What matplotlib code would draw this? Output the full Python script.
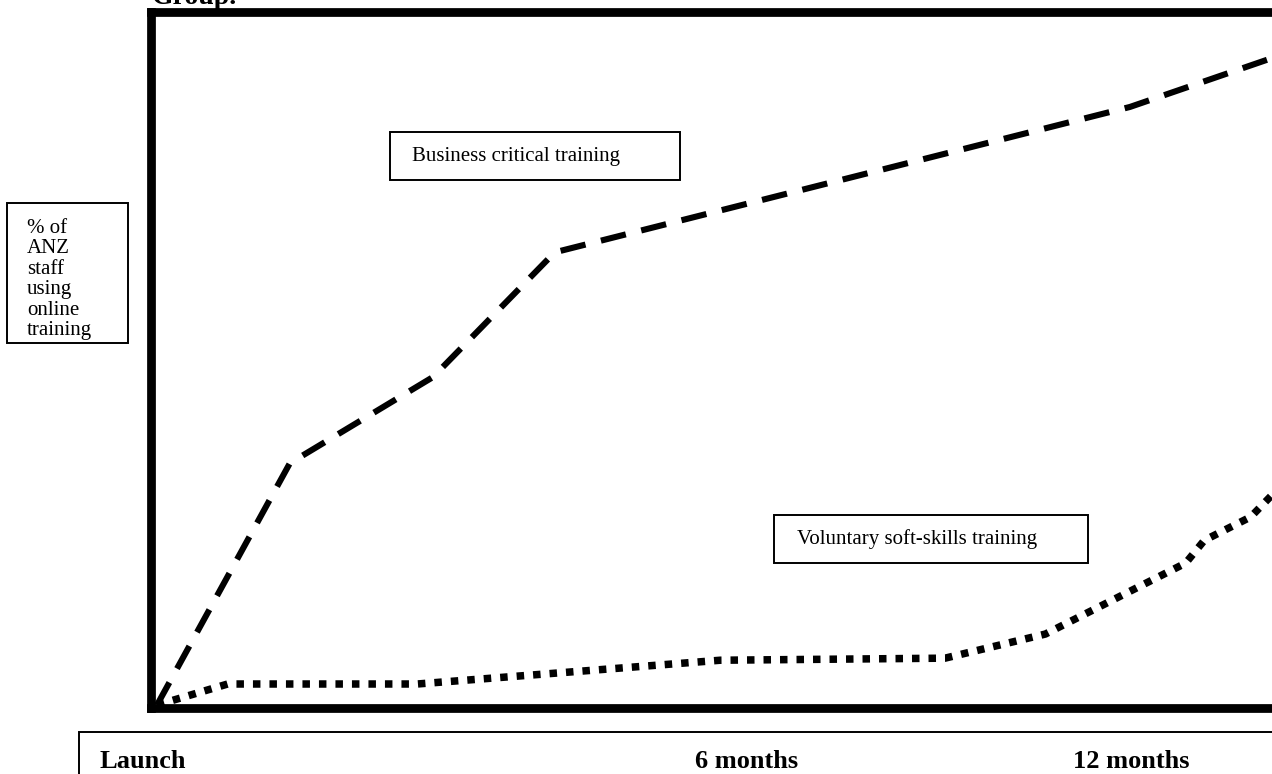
import matplotlib
matplotlib.use("Agg")
import matplotlib.pyplot as plt
from matplotlib.patches import Rectangle

# months since launch vs % of staff
months_business = [0, 1.43, 2.97, 4.28, 10.47, 12.0]
pct_business = [0, 35.1, 47.6, 65.7, 86.8, 93.9]

months_soft = [0, 0.76, 2.80, 6.06, 8.48, 9.56, 11.07, 11.27, 11.77, 12.0]
pct_soft = [0, 3.05, 3.05, 6.5, 6.8, 10.3, 20.6, 23.9, 27.3, 30.5]

time_labels = ["Launch", "6 months", "12 months"]
y_label_lines = ["% of", "ANZ", "staff", "using", "online", "training"]

W, H = 1272, 774
SERIF = ["Liberation Serif", "DejaVu Serif"]


def fx(px):
    return px / W


def fy(py):
    return 1 - py / H


fig = plt.figure(figsize=(W / 100, H / 100), dpi=100)

# main frame, the right side runs off the picture
ax = fig.add_axes([fx(150.5), fy(707.5), fx(1300) - fx(150.5), fy(12) - fy(707.5)])
ax.set_xlim(-0.07, 12.30)
ax.set_ylim(-0.36, 100.58)
ax.set_xticks([])
ax.set_yticks([])
for s in ax.spines.values():
    s.set_linewidth(6.3)
    s.set_color("black")

l1, = ax.plot(months_business, pct_business, color="black", lw=4.4,
              solid_capstyle="butt", dash_capstyle="butt")
l1.set_dashes((4.2, 2.6))
l2, = ax.plot(months_soft, pct_soft, color="black", lw=5.4,
              dash_capstyle="butt")
l2.set_dashes((1.0, 1.2))

# boxes drawn in figure pixels
def box(x0, y0, x1, y1, lw=1.4):
    fig.patches.append(Rectangle((fx(x0), fy(y1)), fx(x1) - fx(x0), fy(y0) - fy(y1),
                                 transform=fig.transFigure, fill=False,
                                 edgecolor="black", lw=lw))

box(390, 132, 680, 180)
fig.text(fx(412), fy(156), "Business critical training", family=SERIF,
         fontsize=15, va="center", ha="left")

box(774, 515, 1088, 563)
fig.text(fx(797), fy(539), "Voluntary soft-skills training", family=SERIF,
         fontsize=15, va="center", ha="left")

box(7, 203, 128, 343)
fig.text(fx(27), fy(219), "\n".join(y_label_lines), family=SERIF,
         fontsize=15, va="top", ha="left", linespacing=1.1)

# timeline box along the bottom
box(79, 732, 1300, 800)
for lab, px in zip(time_labels, [100, 695, 1073]):
    fig.text(fx(px), fy(768), lab, family=SERIF, fontsize=19,
             fontweight="bold", va="baseline", ha="left")

# title is cut off at the top of the picture, as in the source
fig.text(fx(152), fy(4), "Group.", family=SERIF, fontsize=20,
         fontweight="bold", va="baseline", ha="left")

fig.savefig("out.png", dpi=100)
